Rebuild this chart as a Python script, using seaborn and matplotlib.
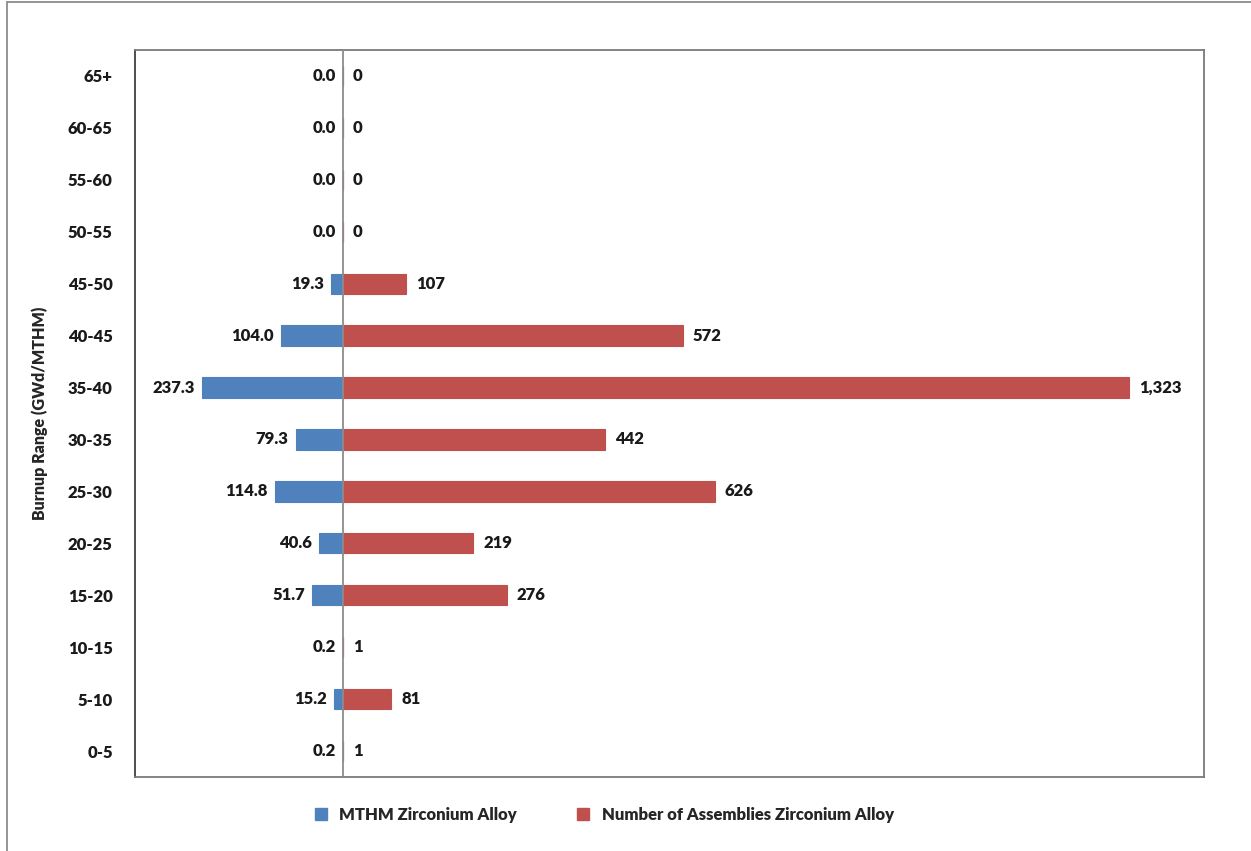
import pandas as pd
import matplotlib.pyplot as plt
import seaborn as sns
from matplotlib.lines import Line2D

# Data (top row first)
burnup = ["65+", "60-65", "55-60", "50-55", "45-50", "40-45", "35-40",
          "30-35", "25-30", "20-25", "15-20", "10-15", "5-10", "0-5"]
mthm = [0.0, 0.0, 0.0, 0.0, 19.3, 104.0, 237.3, 79.3, 114.8, 40.6, 51.7, 0.2, 15.2, 0.2]
assemblies = [0, 0, 0, 0, 107, 572, 1323, 442, 626, 219, 276, 1, 81, 1]

BLUE = "#4F81BD"
RED = "#C0504D"

df = pd.DataFrame({"range": burnup, "mthm": mthm, "assemblies": assemblies})
df["mthm_neg"] = -df["mthm"]

sns.set_style("white")
plt.rcParams["font.family"] = ["Lato", "DejaVu Sans"]

fig = plt.figure(figsize=(12.51, 8.51), dpi=100)
ax = fig.add_axes([135 / 1251, 1 - 777 / 851, (1204 - 135) / 1251, (777 - 50) / 851])

sns.barplot(data=df, x="mthm_neg", y="range", order=burnup, color=BLUE,
            width=0.39, orient="h", ax=ax, saturation=1,
            edgecolor=BLUE, linewidth=0.8)
sns.barplot(data=df, x="assemblies", y="range", order=burnup, color=RED,
            width=0.39, orient="h", ax=ax, saturation=1,
            edgecolor=RED, linewidth=0.8)

ax.set_xlim(-350, 1450)
ax.set_ylim(len(burnup) - 0.5, -0.5)
ax.axvline(0, color="#8c8c8c", lw=1.3, zorder=3)

# value labels
for i, (m, a) in enumerate(zip(mthm, assemblies)):
    ax.text(-m - 12, i, f"{m:.1f}", ha="right", va="center",
            fontsize=12, fontweight="heavy", color="#1a1a1a")
    ax.text(a + 17, i, f"{a:,}", ha="left", va="center",
            fontsize=12, fontweight="heavy", color="#1a1a1a")

ax.set_xticks([])
ax.set_xlabel("")
ax.set_ylabel("Burnup Range (GWd/MTHM)", fontsize=11.5, fontweight="heavy", labelpad=14)
ax.tick_params(axis="y", length=0, pad=16, labelsize=12)
for lab in ax.get_yticklabels():
    lab.set_fontweight("heavy")
    lab.set_color("#1a1a1a")

for s in ax.spines.values():
    s.set_visible(True)
    s.set_color("#7a7a7a")
    s.set_linewidth(1.3)
ax.spines["left"].set_color("#404040")

handles = [
    Line2D([], [], marker="s", linestyle="", color=BLUE, markersize=9),
    Line2D([], [], marker="s", linestyle="", color=RED, markersize=9),
]
fig.legend(handles, ["MTHM Zirconium Alloy", "Number of Assemblies Zirconium Alloy"],
           loc="center", bbox_to_anchor=(599 / 1251, 1 - 815 / 851), ncol=2,
           frameon=False, handletextpad=0.1, columnspacing=3.0,
           prop={"size": 12, "weight": "heavy"})

# outer chart frame (top and left edges visible)
fig.add_artist(Line2D([7 / 1251, 1], [1 - 2 / 851, 1 - 2 / 851], color="#8c8c8c", lw=1.3))
fig.add_artist(Line2D([7 / 1251, 7 / 1251], [0, 1 - 2 / 851], color="#8c8c8c", lw=1.3))

fig.savefig("out.png", dpi=100)
